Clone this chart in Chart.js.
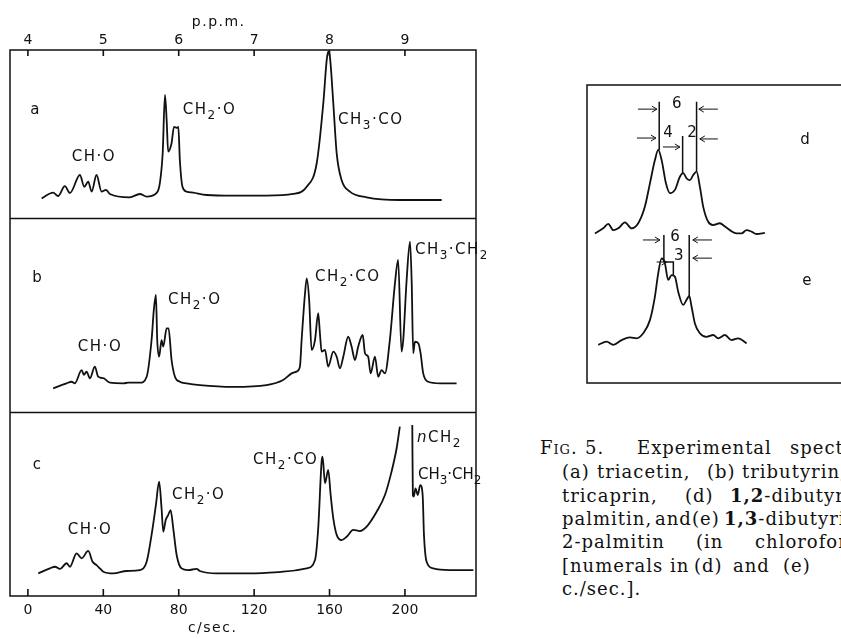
<!DOCTYPE html>
<html>
<head>
<meta charset="utf-8">
<script src="https://cdn.jsdelivr.net/npm/chart.js@4.4.0/dist/chart.umd.min.js"></script>
<style>
    html, body { margin: 0; padding: 0; background: #fff; width: 841px; height: 639px; overflow: hidden; position: relative; }
    #main { position: absolute; left: 0; top: 0; }
    #inset { position: absolute; left: 582px; top: 80px; }
    .cap { position: absolute; font-family: "DejaVu Serif", serif; font-size: 18px; line-height: 18px; letter-spacing: 1px; color: #111; white-space: nowrap; }
    .sc { font-variant: small-caps; }
    .cap b { font-weight: 600; }
</style>
</head>
<body>
<canvas id="main" width="486" height="639"></canvas>
<canvas id="inset" width="259" height="308"></canvas>
<div id="caption"></div>

<script>
// ========================================
// DATA - main spectra (x = c/sec, y = relative trace height 0-100 per panel)
// ========================================

// (a) triacetin
const aShift = [7.3,13.4,16,19.6,22.3,27.6,29.9,32,33.8,36.4,39.1,41.4,43.5,54,59.4,63,68.3,70,71.5,72.7,73.6,74.4,76.2,77.5,78.9,79.8,80.6,82,84.2,87.7,94.8,108.9,126.6,140.7,147.9,153.2,156.7,158.5,159.3,160.2,162,163.8,166.4,170.8,179.7,197.3,219.5];
const aInt = [11.7,15.1,13.1,19,14.9,25.6,18.6,21.6,15.7,25.6,15.7,16.7,14.3,12.3,14.3,12.7,14.9,20.8,38.7,73.2,58.3,39.5,44.5,54.3,53.6,54.3,34.5,18.6,15.7,15.1,13.7,13.3,13.3,14.3,18.6,32.6,68.3,94,99,96,68.3,38.5,22.6,15.7,12.3,10.7,10.7];

// (b) tributyrin
const bShift = [13.4,20.5,23.2,24.9,28.5,29.7,31.1,32.9,35.5,37.3,40,43.5,50.6,53.2,55.9,59.4,63,65.6,66.8,67.9,68.6,69.6,70.9,71.8,73.6,74.6,76.2,78,80.6,84.2,91.2,108.9,126.6,135.4,139.9,142.5,144.3,145.2,147,147.9,149.2,150.5,152.3,154,154.9,155.8,157.6,159.3,162,163.8,165.5,167.3,169.9,171.7,173.5,175.2,177.6,178.8,180.5,181.8,184.1,185.8,187.6,189.4,192,194.7,196.4,198.2,199.1,200.9,202.7,203.6,204.4,205.3,207.1,208.3,209.7,212.4,218.6,227.4];
const bInt = [12.2,14.8,15.6,14.8,21.6,19.1,20.8,17.4,23.4,18.2,17.4,15.1,14.8,15.1,15.1,15.1,18.2,37.1,52.6,60.3,37.1,28.5,37.1,33.7,43.1,43.1,26.8,18.2,15.6,14.8,13.9,13,13.9,16.5,19.9,20.8,23.4,37.1,61.2,68.9,57.7,32,37.1,50.9,40.6,31.1,32,23.4,31.1,28.5,22.5,28.5,38.8,33.7,26.8,33.7,39.7,30.3,28.5,19.9,28.5,18.2,21.6,19.9,37.1,66.3,78.4,31.1,37.1,68,87.8,66.3,30.3,36.2,35.4,30.3,19.9,15.6,14.8,14.8];

// (c) tricaprin - nCH2 peak runs off scale (null = gap)
const cShift = [5.5,11.7,14.3,17,20.5,22.3,25.8,28.5,32,34.3,36.4,38.2,40,45.3,52.4,59.4,63,65.6,67.9,69.6,70.9,71.8,73.1,74.4,75.7,77.1,78.9,81.5,85,89.5,91.2,100.1,117.8,135.4,147.9,152.3,154,155.8,156.3,157.6,159.3,160.6,162,163.8,166.4,169.1,172.6,176.1,179.7,185,189.4,192.9,195.6,197.3,200.6,203.9,204.2,204.7,205.6,206.8,208.1,209.4,210.1,211.5,215,223.9,236.3];
const cInt = [12.3,15,15.9,14.7,17.8,15.9,23.2,20.5,24.5,18.6,16.8,15,13.2,12.3,13.6,14.1,18.6,33.2,49.5,62.1,47.7,34.9,41.3,44,46.7,36.8,22.3,15,14.1,14.7,13.6,12.3,12.3,13.2,15,19.6,36.8,73,75.7,61.3,68.5,54.9,42.2,33.2,30.4,32.2,35.9,35.3,37.7,45.8,54.9,67.6,80.3,92,null,92.9,54.9,54,58.5,54.9,60.3,54.9,33.2,18.6,15,14.1,14.1];

const cpsTicks = [0, 40, 80, 120, 160, 200];
const ppmTicks = [4, 5, 6, 7, 8, 9];

// ========================================
// DATA - inset (x = c/sec from left marker, y = trace height 0-100)
// ========================================

// (d) 1,2-dibutyrin-3-palmitin
const dShift = [-10.32,-8.99,-8.19,-7.38,-6.58,-5.51,-4.43,-3.37,-2.30,-1.49,-0.69,-0.16,0.39,1.08,1.72,2.52,3.32,3.85,4.40,4.93,5.46,6.00,6.53,7.06,7.87,8.67,9.74,10.55,11.35,12.42,13.23,14.03,14.83,15.63,16.97];
const dInt = [50.2,51.9,53.4,51.3,51.9,53.9,51.9,53.6,59.2,67,74.8,78.2,74.8,67,63.7,64.8,69.2,70.4,68.7,68.1,69.8,70.9,65.9,59.2,54.1,53,53.6,52.5,51.3,50.2,50.2,51.3,50.8,50,50.4];

// (e) 1,3-dibutyrin-2-palmitin
const eShift = [-9.79,-8.44,-7.38,-6.04,-4.70,-3.63,-2.57,-1.49,-0.69,-0.16,0.39,0.91,1.44,1.99,2.52,3.05,3.85,4.40,4.82,5.20,5.73,6.53,7.61,8.67,9.47,10.55,11.62,12.68,14.03];
const eInt = [12.8,13.9,12.8,14.4,15.3,15,16.7,21.1,29,36.8,41.8,40.2,34.6,36.2,35.7,30.6,26.2,27.9,29.2,25.6,20,16.7,15.5,16.1,15,16.1,14.4,15,13.3];

// marker lines (x pairs / y pairs)
const dMarkLeftX = [0, 0],       dMarkLeftY = [94.4, 78.2];
const dMarkMidX = [3.76, 3.76],  dMarkMidY = [82.9, 70.4];
const dMarkRightX = [6.0, 6.0],  dMarkRightY = [94.4, 70.9];
const eMarkLeftX = [0.75, 0.75], eMarkLeftY = [49.7, 40.6];
const eMarkMidX = [0.75, 2.27, 2.27], eMarkMidY = [40.6, 40.6, 36.2];
const eMarkRightX = [4.82, 4.82], eMarkRightY = [49.7, 29.2];

// ========================================
// LABELS
// ========================================

const mainLabels = [
    { axis: 'ya', x: 3.7, y: 64.3, text: 'a', center: true },
    { axis: 'ya', x: 23.3, y: 36.3, text: 'CH·O' },
    { axis: 'ya', x: 82.2, y: 64.3, text: 'CH_2·O' },
    { axis: 'ya', x: 164.5, y: 58.3, text: 'CH_3·CO' },
    { axis: 'yb', x: 4.8, y: 69.1, text: 'b', center: true },
    { axis: 'yb', x: 26.5, y: 33.5, text: 'CH·O' },
    { axis: 'yb', x: 74.3, y: 57.7, text: 'CH_2·O' },
    { axis: 'yb', x: 152.3, y: 69.6, text: 'CH_2·CO' },
    { axis: 'yb', x: 205.3, y: 83.5, text: 'CH_3·CH_2' },
    { axis: 'yc', x: 4.8, y: 71.2, text: 'c', center: true },
    { axis: 'yc', x: 21.2, y: 35.9, text: 'CH·O' },
    { axis: 'yc', x: 76.4, y: 54.9, text: 'CH_2·O' },
    { axis: 'yc', x: 119.4, y: 73.9, text: 'CH_2·CO' },
    { axis: 'yc', x: 206.4, y: 85.9, text: '~nCH_2' },
    { axis: 'yc', x: 206.9, y: 65.8, text: 'CH_3·CH_2', spacing: 0 }
];

const insetText = [
    { t: '6', x: 2.84, y: 93.6 }, { t: '4', x: 1.40, y: 83.9 }, { t: '2', x: 5.25, y: 83.9 },
    { t: 'd', x: 23.4, y: 81.5 },
    { t: '6', x: 2.52, y: 49 }, { t: '3', x: 3.15, y: 42.6 },
    { t: 'e', x: 23.7, y: 34.2 }
];

const insetArrows = [
    { from: -3.42, to: -0.37, y: 91.9 }, { from: 9.42, to: 6.36, y: 91.9 },
    { from: -3.58, to: -0.53, y: 82.2 }, { from: 9.42, to: 6.52, y: 81.9 },
    { from: 0.59, to: 3.32, y: 79.2 },
    { from: -2.62, to: 0.11, y: 48 }, { from: 8.46, to: 5.4, y: 48 },
    { from: -0.42, to: 1.19, y: 40.6 }, { from: 8.46, to: 5.4, y: 41.9 }
];

// caption words: [html, left px] per line
const captionLines = [
    { top: 439, words: [['<span class="sc">Fig.</span>', 540], ['5.', 585], ['Experimental', 637], ['spectra', 790]] },
    { top: 463, words: [['(a)', 562], ['triacetin,', 597], ['(b)', 707], ['tributyrin,', 742]] },
    { top: 487, words: [['tricaprin,', 562], ['(d)', 685], ['<b>1,2</b>-dibutyrin-', 730]] },
    { top: 510, words: [['palmitin,', 562], ['and', 655], ['(e)', 692], ['<b>1,3</b>-dibutyrin-', 724]] },
    { top: 533, words: [['2-palmitin', 562], ['(in', 696], ['chloroform)', 755]] },
    { top: 557, words: [['[numerals', 562], ['in', 670], ['(d)', 694], ['and', 733], ['(e)', 783]] },
    { top: 580, words: [['c./sec.].', 562]] }
];

// ========================================
// HELPERS
// ========================================

function toPoints(xs, ys) {
    return xs.map((x, i) => ({ x: x, y: ys[i] }));
}

function trace(xs, ys, yAxisID, smooth) {
    return {
        data: toPoints(xs, ys),
        yAxisID: yAxisID,
        borderColor: '#111',
        borderWidth: 1.8,
        pointRadius: 0,
        fill: false,
        spanGaps: false,
        cubicInterpolationMode: smooth ? 'monotone' : 'default',
        tension: 0
    };
}

// draws text with "_x" subscripts and "~x" italic
function drawChem(ctx, text, x, y, size, spacing) {
    let cx = x;
    for (let i = 0; i < text.length; i++) {
        let ch = text[i];
        let sub = false, ital = false;
        if (ch === '_') { sub = true; ch = text[++i]; }
        if (ch === '~') { ital = true; ch = text[++i]; }
        const fs = sub ? Math.round(size * 0.8) : size;
        ctx.font = (ital ? 'italic ' : '') + fs + 'px "DejaVu Sans"';
        ctx.fillText(ch, cx, sub ? y + size * 0.42 : y);
        cx += ctx.measureText(ch).width + spacing;
    }
}

// ========================================
// MAIN CHART (three stacked panels)
// ========================================

const framePlugin = {
    id: 'frame',
    afterDraw(chart) {
        const ctx = chart.ctx;
        const area = chart.chartArea;
        const xs = chart.scales.x, xt = chart.scales.x2;
        ctx.save();
        ctx.strokeStyle = '#111';
        ctx.lineWidth = 1.5;
        ctx.strokeRect(area.left, area.top, area.right - area.left, area.bottom - area.top);

        // panel separators
        ['ya', 'yb'].forEach(id => {
            const yb = Math.round(chart.scales[id].bottom) + 0.5;
            ctx.beginPath();
            ctx.moveTo(area.left, yb);
            ctx.lineTo(area.right, yb);
            ctx.stroke();
        });

        // inward tick marks
        ctx.lineWidth = 1.6;
        xs.ticks.forEach(t => {
            const px = xs.getPixelForValue(t.value);
            ctx.beginPath();
            ctx.moveTo(px, area.bottom);
            ctx.lineTo(px, area.bottom - 7);
            ctx.stroke();
        });
        xt.ticks.forEach(t => {
            const px = xt.getPixelForValue(t.value);
            ctx.beginPath();
            ctx.moveTo(px, area.top);
            ctx.lineTo(px, area.top + 6);
            ctx.stroke();
        });

        // axis titles
        ctx.fillStyle = '#111';
        ctx.textBaseline = 'middle';
        ctx.textAlign = 'center';
        ctx.font = '14px "DejaVu Sans"';
        ctx.letterSpacing = '1.5px';
        ctx.fillText('p.p.m.', xt.getPixelForValue(6.53), area.top - 28);
        ctx.fillText('c/sec.', xs.getPixelForValue(98), area.bottom + 32);
        ctx.letterSpacing = '0px';

        // peak labels
        ctx.textAlign = 'left';
        mainLabels.forEach(l => {
            const px = xs.getPixelForValue(l.x);
            const py = chart.scales[l.axis].getPixelForValue(l.y);
            if (l.center) {
                ctx.font = '15px "DejaVu Sans"';
                ctx.textAlign = 'center';
                ctx.fillText(l.text, px, py);
                ctx.textAlign = 'left';
            } else {
                drawChem(ctx, l.text, px, py, 15, l.spacing === undefined ? 1.5 : l.spacing);
            }
        });
        ctx.restore();
    }
};

new Chart(document.getElementById('main'), {
    type: 'line',
    data: {
        datasets: [
            trace(aShift, aInt, 'ya', true),
            trace(bShift, bInt, 'yb', true),
            trace(cShift, cInt, 'yc', true)
        ]
    },
    options: {
        responsive: false,
        animation: false,
        layout: { padding: { left: 10, right: 10, top: 33, bottom: 22 } },
        plugins: { legend: { display: false }, tooltip: { enabled: false } },
        scales: {
            x: {
                type: 'linear',
                position: 'bottom',
                min: -9.5,
                max: 237.7,
                afterBuildTicks: scale => { scale.ticks = cpsTicks.map(v => ({ value: v })); },
                grid: { display: false, drawTicks: true, tickLength: 7 },
                border: { display: false },
                ticks: { padding: 0, color: '#111', maxRotation: 0, font: { family: 'DejaVu Sans', size: 14, lineHeight: 1 } }
            },
            x2: {
                type: 'linear',
                position: 'top',
                min: 4 - 9.5 / 40,
                max: 4 + 237.7 / 40,
                afterBuildTicks: scale => { scale.ticks = ppmTicks.map(v => ({ value: v })); },
                grid: { display: false, drawTicks: true, tickLength: 3 },
                border: { display: false },
                ticks: { padding: 0, color: '#111', maxRotation: 0, font: { family: 'DejaVu Sans', size: 14, lineHeight: 1 } }
            },
            ya: { type: 'linear', position: 'right', stack: 'spec', stackWeight: 168, min: 0, max: 100, display: false },
            yb: { type: 'linear', position: 'right', stack: 'spec', stackWeight: 194, min: 0, max: 100, display: false },
            yc: { type: 'linear', position: 'right', stack: 'spec', stackWeight: 184, min: 0, max: 100, display: false }
        }
    },
    plugins: [framePlugin]
});

// ========================================
// INSET CHART (d, e)
// ========================================

const insetPlugin = {
    id: 'insetFrame',
    afterDraw(chart) {
        const ctx = chart.ctx;
        const area = chart.chartArea;
        const xs = chart.scales.x, ys = chart.scales.y;
        ctx.save();
        ctx.strokeStyle = '#111';
        ctx.fillStyle = '#111';
        ctx.lineWidth = 1.5;
        ctx.beginPath();
        ctx.moveTo(area.right, area.top);
        ctx.lineTo(area.left, area.top);
        ctx.lineTo(area.left, area.bottom);
        ctx.lineTo(area.right, area.bottom);
        ctx.stroke();

        // arrows
        ctx.lineWidth = 1;
        insetArrows.forEach(a => {
            const x1 = xs.getPixelForValue(a.from), x2 = xs.getPixelForValue(a.to);
            const y = ys.getPixelForValue(a.y);
            const dir = x2 > x1 ? 1 : -1;
            ctx.beginPath();
            ctx.moveTo(x1, y);
            ctx.lineTo(x2, y);
            ctx.moveTo(x2 - dir * 5, y - 3);
            ctx.lineTo(x2, y);
            ctx.lineTo(x2 - dir * 5, y + 3);
            ctx.stroke();
        });

        ctx.font = '15px "DejaVu Sans"';
        ctx.textAlign = 'center';
        ctx.textBaseline = 'middle';
        insetText.forEach(t => {
            ctx.fillText(t.t, xs.getPixelForValue(t.x), ys.getPixelForValue(t.y));
        });
        ctx.restore();
    }
};

function mark(xs, ys) {
    const ds = trace(xs, ys, 'y', false);
    ds.borderWidth = 1.5;
    return ds;
}

new Chart(document.getElementById('inset'), {
    type: 'line',
    data: {
        datasets: [
            trace(dShift, dInt, 'y', true),
            trace(eShift, eInt, 'y', true),
            mark(dMarkLeftX, dMarkLeftY),
            mark(dMarkMidX, dMarkMidY),
            mark(dMarkRightX, dMarkRightY),
            mark(eMarkLeftX, eMarkLeftY),
            mark(eMarkMidX, eMarkMidY),
            mark(eMarkRightX, eMarkRightY)
        ]
    },
    options: {
        responsive: false,
        animation: false,
        layout: { padding: { left: 5, right: 0, top: 5, bottom: 5 } },
        plugins: { legend: { display: false }, tooltip: { enabled: false } },
        scales: {
            x: { type: 'linear', min: -11.6, max: 29.2, display: false },
            y: { type: 'linear', min: 0, max: 100, display: false }
        }
    },
    plugins: [insetPlugin]
});

// ========================================
// CAPTION
// ========================================

const captionEl = document.getElementById('caption');
captionLines.forEach(line => {
    line.words.forEach(w => {
        const span = document.createElement('div');
        span.className = 'cap';
        span.style.left = w[1] + 'px';
        span.style.top = line.top + 'px';
        span.innerHTML = w[0];
        captionEl.appendChild(span);
    });
});
</script>
</body>
</html>
